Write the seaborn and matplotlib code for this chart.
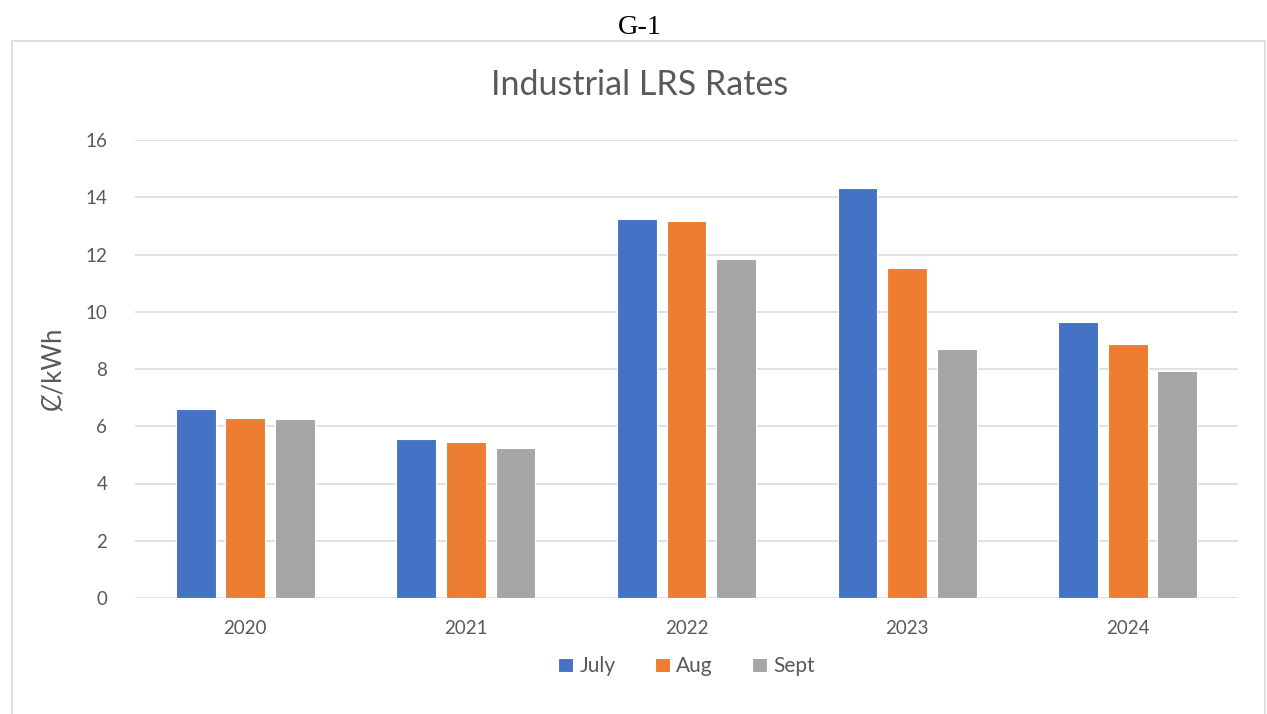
import pandas as pd
import matplotlib.pyplot as plt
import seaborn as sns
from matplotlib.patches import Rectangle

# Chart data
years = ["2020", "2021", "2022", "2023", "2024"]
months = ["July", "Aug", "Sept"]
july = [6.60, 5.55, 13.23, 14.32, 9.65]
aug = [6.30, 5.44, 13.16, 11.53, 8.86]
sept = [6.25, 5.25, 11.85, 8.70, 7.93]
colors = ["#4472C4", "#ED7D31", "#A5A5A5"]

df = pd.DataFrame({
    "Year": years * 3,
    "Month": [m for m in months for _ in years],
    "Rate": july + aug + sept,
})

sns.set_style("white")
plt.rcParams["font.family"] = ["Lato", "DejaVu Sans"]
text_color = "#595959"

fig = plt.figure(figsize=(12.67, 7.14), dpi=100)
ax = fig.add_axes([135 / 1267, 1 - 598 / 714, 1103 / 1267, 458 / 714])

sns.barplot(data=df, x="Year", y="Rate", hue="Month", hue_order=months,
            palette=colors, width=0.675, gap=0.2, ax=ax,
            edgecolor="white", linewidth=0.8, saturation=1)

ax.set_ylim(0, 16)
ax.set_yticks(range(0, 17, 2))
ax.set_xlim(-0.5, 4.5)
ax.yaxis.grid(True, color="#d9d9d9", linewidth=1.1)
ax.set_axisbelow(True)
sns.despine(ax=ax, left=True, bottom=True)
ax.tick_params(axis="both", length=0, labelsize=13.5, labelcolor=text_color)
ax.tick_params(axis="y", pad=20)
ax.tick_params(axis="x", pad=16)
ax.set_xlabel("")
ax.set_ylabel("Ȼ/kWh", fontsize=18.5, color=text_color, labelpad=14)

ax.legend(loc="center", bbox_to_anchor=(0.5, -0.149), ncol=3,
          frameon=False, fontsize=15, labelcolor=text_color,
          handlelength=0.7, handleheight=0.7, handletextpad=0.3,
          columnspacing=1.9)

fig.text(0.505, 1 - 85 / 714, "Industrial LRS Rates", ha="center",
         va="center", fontsize=24.5, color=text_color)

# outer chart frame and page heading
fig.patches.append(Rectangle((12 / 1267, -0.01), 1253 / 1267, 1 - 41 / 714 + 0.01,
                             transform=fig.transFigure, fill=False,
                             edgecolor="#d9d9d9", linewidth=1.2))
fig.text(0.505, 1 - 27 / 714, "G-1", ha="center", va="center",
         fontsize=20.5, family="Liberation Serif", color="black")

plt.savefig("out.png", dpi=100)
